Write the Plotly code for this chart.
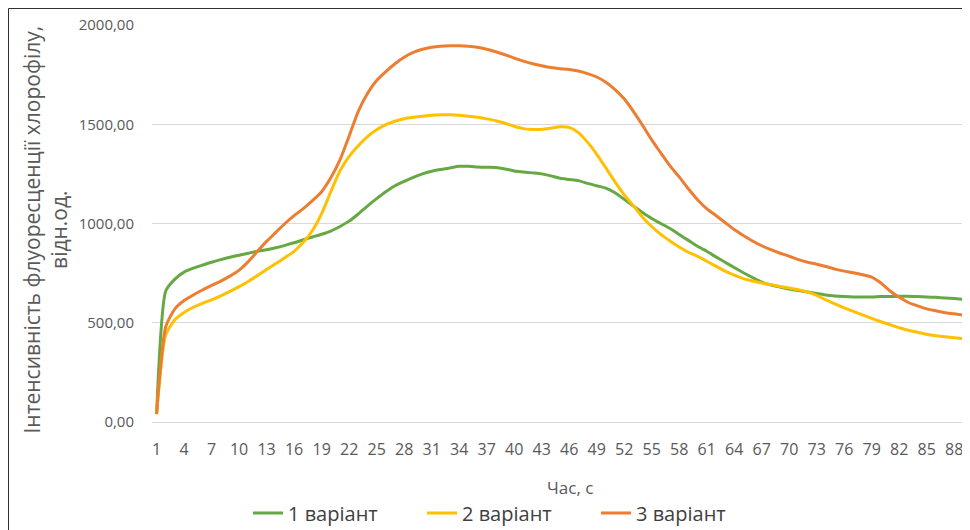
import plotly.graph_objects as go

# Час, с (categories)
time_s = [1, 2, 3, 4, 5, 6, 7, 8, 9, 10, 11, 12, 13, 14, 15, 16, 17, 18, 19, 20,
          21, 22, 23, 24, 25, 26, 27, 28, 29, 30, 31, 32, 33, 34, 35, 36, 37, 38, 39, 40,
          41, 42, 43, 44, 45, 46, 47, 48, 49, 50, 51, 52, 53, 54, 55, 56, 57, 58, 59, 60,
          61, 62, 63, 64, 65, 66, 67, 68, 69, 70, 71, 72, 73, 74, 75, 76, 77, 78, 79, 80,
          81, 82, 83, 84, 85, 86, 87, 88, 89]

variant_1 = [40, 660, 720, 755, 775, 790, 805, 818, 830, 840,
             850, 860, 868, 878, 890, 903, 918, 932, 946, 962,
             985, 1012, 1048, 1088, 1125, 1160, 1190, 1212, 1232, 1250,
             1263, 1272, 1280, 1288, 1288, 1285, 1283, 1282, 1275, 1265,
             1260, 1255, 1250, 1240, 1228, 1222, 1216, 1202, 1190, 1178,
             1155, 1122, 1088, 1055, 1025, 1000, 975, 945, 915, 885,
             860, 832, 805, 778, 752, 728, 705, 690, 680, 670,
             662, 655, 648, 640, 635, 632, 630, 630, 630, 632,
             632, 633, 634, 632, 630, 628, 625, 622, 618]

variant_2 = [40, 440, 515, 552, 578, 598, 615, 635, 658, 682,
             708, 738, 768, 798, 828, 860, 905, 965, 1050, 1160,
             1265, 1338, 1392, 1438, 1472, 1498, 1515, 1528, 1535, 1540,
             1545, 1548, 1548, 1545, 1540, 1535, 1527, 1518, 1505, 1490,
             1478, 1474, 1474, 1480, 1487, 1484, 1458, 1410, 1350, 1280,
             1210, 1145, 1090, 1032, 985, 945, 912, 882, 855, 835,
             810, 785, 760, 740, 722, 710, 700, 692, 683, 675,
             667, 655, 638, 615, 595, 575, 557, 540, 522, 505,
             490, 475, 462, 452, 442, 435, 430, 425, 420]

variant_3 = [40, 480, 570, 612, 640, 665, 688, 710, 735, 765,
             808, 860, 910, 955, 1000, 1040, 1075, 1115, 1160, 1230,
             1320, 1440, 1565, 1655, 1720, 1765, 1805, 1838, 1862, 1878,
             1888, 1893, 1895, 1895, 1893, 1888, 1878, 1865, 1850, 1833,
             1818, 1805, 1795, 1786, 1780, 1776, 1768, 1755, 1738, 1712,
             1675, 1628, 1565, 1495, 1421, 1355, 1290, 1235, 1175, 1120,
             1075, 1040, 1005, 970, 940, 912, 888, 868, 850, 835,
             818, 805, 795, 783, 770, 760, 752, 742, 730, 700,
             660, 628, 602, 585, 570, 560, 550, 545, 538]

series_names = ["1 варіант", "2 варіант", "3 варіант"]
series_colors = ["#66A843", "#FFC000", "#ED7D31"]

x_tick_vals = [1, 4, 7, 10, 13, 16, 19, 22, 25, 28, 31, 34, 37, 40, 43, 46, 49,
               52, 55, 58, 61, 64, 67, 70, 73, 76, 79, 82, 85, 88]
y_tick_vals = [0, 500, 1000, 1500, 2000]
y_tick_text = ["0,00", "500,00", "1000,00", "1500,00", "2000,00"]

FONT = "Open Sans"
GRAY = "#595959"

W, H = 962, 545
ML, MR, MT = 144, 2, 17
PLOT_H = 397
MB = H - MT - PLOT_H
PLOT_W = W - ML - MR

def px_to_paper_x(px):
    return (px - ML) / PLOT_W

def px_to_paper_y(py):
    return (MT + PLOT_H - py) / PLOT_H

fig = go.Figure()
for name, vals, col in zip(series_names, [variant_1, variant_2, variant_3], series_colors):
    fig.add_trace(go.Scatter(
        x=time_s, y=vals, name=name, mode="lines",
        line=dict(color=col, width=3, shape="spline", smoothing=0.6),
    ))

fig.update_layout(
    width=W, height=H,
    margin=dict(l=ML, r=MR, t=MT, b=MB),
    paper_bgcolor="white", plot_bgcolor="white",
    font=dict(family=FONT, color=GRAY),
    showlegend=True,
    legend=dict(
        orientation="h", x=px_to_paper_x(240), xanchor="left",
        y=px_to_paper_y(505), yanchor="middle",
        font=dict(size=20, color="#404040", family=FONT),
        entrywidth=129, entrywidthmode="pixels",
        bgcolor="rgba(0,0,0,0)",
    ),
    xaxis=dict(
        range=[0.5, 89.5], tickmode="array", tickvals=x_tick_vals,
        ticktext=[str(v) for v in x_tick_vals],
        showgrid=False, zeroline=False, showline=True, linecolor="#d9d9d9", linewidth=1,
        ticks="", tickfont=dict(size=16, color=GRAY), ticklabelstandoff=13,
    ),
    yaxis=dict(
        range=[0, 2000], tickmode="array", tickvals=y_tick_vals, ticktext=y_tick_text,
        showgrid=True, gridcolor="#d9d9d9", gridwidth=1, zeroline=False, showline=False,
        ticks="", tickfont=dict(size=15, color=GRAY), ticklabelstandoff=17,
    ),
    annotations=[
        dict(text="Інтенсивність флуоресценції хлорофілу,<br>відн.од.",
             xref="paper", yref="paper", x=px_to_paper_x(37.5), y=px_to_paper_y(222),
             xanchor="center", yanchor="middle",
             textangle=-90, showarrow=False, font=dict(size=21, color=GRAY, family=FONT)),
        dict(text="Час, с", xref="paper", yref="paper",
             x=px_to_paper_x(562), y=px_to_paper_y(480),
             xanchor="center", yanchor="middle", showarrow=False,
             font=dict(size=17, color=GRAY, family=FONT)),
    ],
    shapes=[
        dict(type="rect", xref="paper", yref="paper",
             x0=px_to_paper_x(0.5), x1=px_to_paper_x(960.5),
             y0=px_to_paper_y(H + 20), y1=px_to_paper_y(0.5),
             line=dict(color="#303030", width=1), fillcolor="rgba(0,0,0,0)", layer="below"),
    ],
)

fig.write_html("out.html")
